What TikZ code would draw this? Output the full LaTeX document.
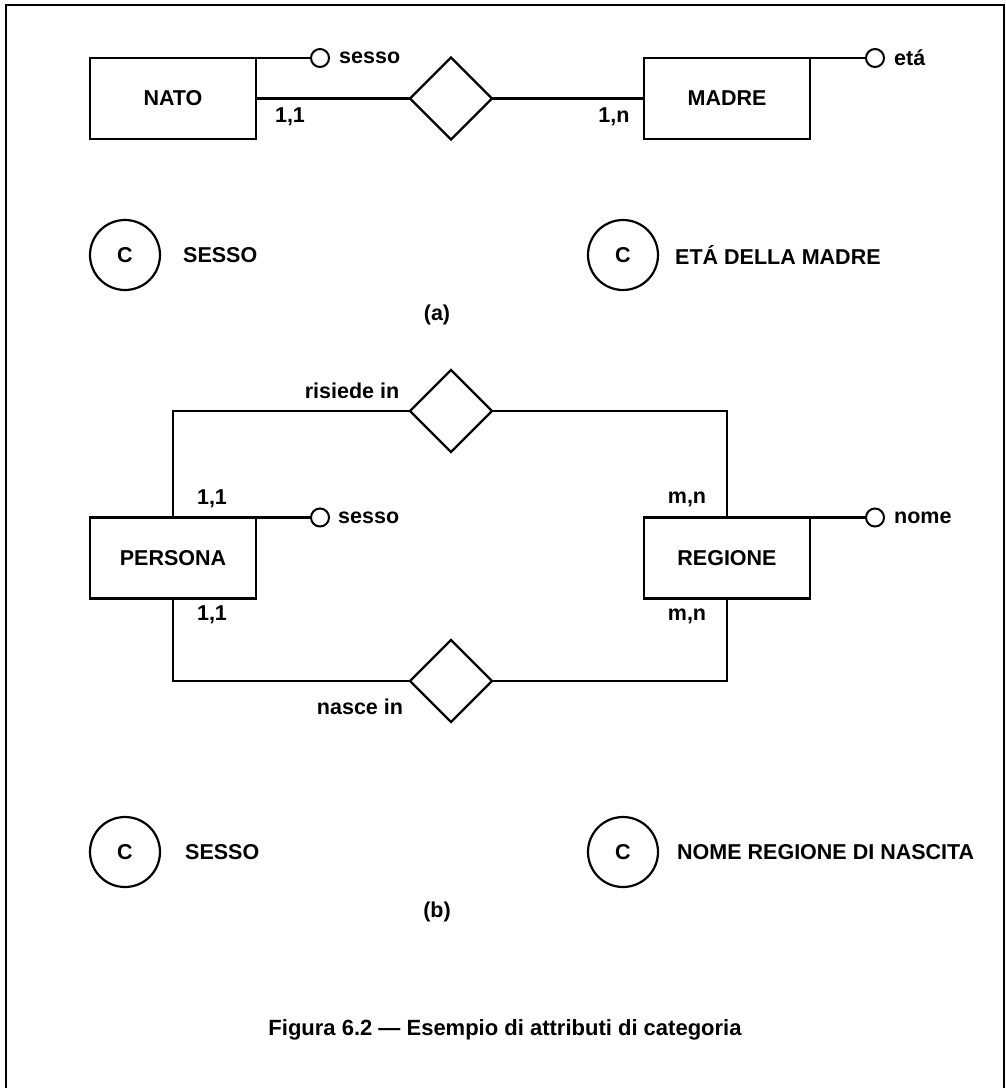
\documentclass[tikz,border=0pt]{standalone}
\usepackage{fontspec}
\setmainfont{Liberation Sans}
\usetikzlibrary{shapes.geometric}
\begin{document}
\begin{tikzpicture}[x=1pt,y=-1pt,
  every node/.style={font=\fontsize{21.5}{24}\selectfont\bfseries},
  entity/.style={draw,line width=2.4pt,rectangle,minimum width=166pt,minimum height=81pt,inner sep=0pt,outer sep=0pt},
  rel/.style={draw,line width=2.4pt,diamond,minimum width=82pt,minimum height=82pt,inner sep=0pt,outer sep=0pt},
  attr/.style={draw,line width=2pt,circle,minimum size=18pt,inner sep=0pt,outer sep=0pt},
  catc/.style={draw,line width=2.2pt,circle,minimum size=70pt,inner sep=0pt},
  conn/.style={line width=2.4pt},
  lbl/.style={inner sep=0pt}]
\useasboundingbox (0,0) rectangle (1006,1088);
\draw[line width=2.6pt] (6,1088) -- (6,5) -- (1004,5) -- (1004,1088);

% (a)
\node[entity] (nato) at (173,98.5) {NATO};
\node[entity] (madre) at (727,98.5) {MADRE};
\node[rel] (ra) at (451,98.5) {};
\node[attr] (asesso) at (320,58) {};
\node[attr] (aeta) at (875,58) {};
\draw[conn] (nato.north east) -- (asesso.west);
\draw[conn] (madre.north east) -- (aeta.west);
\draw[conn] (nato.east) -- (ra.west);
\draw[conn] (ra.east) -- (madre.west);
\node[lbl,anchor=west] (tsessoa) at (asesso.east) [xshift=10pt] {sesso};
\node[lbl,anchor=west] (teta) at (aeta.east) [xshift=10pt] {etá};
\node[lbl] (c11a) at (290,117) {1,1};
\node[lbl] (c1na) at (614,117) {1,n};
\node[catc] (ca1) at (125,255) {C};
\node[catc] (ca2) at (623,255) {C};
\node[lbl,anchor=west] (sa1) at (183,255) {SESSO};
\node[lbl,anchor=west] (sa2) at (675,255) {ETÁ DELLA MADRE};
\node[lbl] (la) at (437,315) {(a)};

% (b)
\node[entity] (pers) at (173,558) {PERSONA};
\node[entity] (reg) at (727,558) {REGIONE};
\node[rel] (r1) at (451,411) {};
\node[rel] (r2) at (451,681) {};
\node[attr] (bsesso) at (320,517.5) {};
\node[attr] (bnome) at (875,517.5) {};
\draw[conn] (pers.north east) -- (bsesso.west);
\draw[conn] (reg.north east) -- (bnome.west);
\draw[conn] (pers.north) |- (r1.west);
\draw[conn] (r1.east) -| (reg.north);
\draw[conn] (pers.south) |- (r2.west);
\draw[conn] (r2.east) -| (reg.south);
\node[lbl,anchor=west] (tsessob) at (bsesso.east) [xshift=9pt] {sesso};
\node[lbl,anchor=west] (tnome) at (bnome.east) [xshift=10pt] {nome};
\node[lbl] (risiede) at (352,391) {risiede in};
\node[lbl] (nasce) at (360,707) {nasce in};
\node[lbl] (c11b) at (212,499) {1,1};
\node[lbl] (c11c) at (212,615) {1,1};
\node[lbl] (cmnb) at (687,499) {m,n};
\node[lbl] (cmnc) at (687,616) {m,n};
\node[catc] (cb1) at (125,852) {C};
\node[catc] (cb2) at (623,852) {C};
\node[lbl,anchor=west] (sb1) at (185,852) {SESSO};
\node[lbl,anchor=west] (sb2) at (677,852) {NOME REGIONE DI NASCITA};
\node[lbl] (lb) at (437,912) {(b)};

\node[lbl,font=\fontsize{22}{26}\selectfont\bfseries] (cap) at (505,1030) {Figura 6.2 — Esempio di attributi di categoria};
\end{tikzpicture}
\end{document}
